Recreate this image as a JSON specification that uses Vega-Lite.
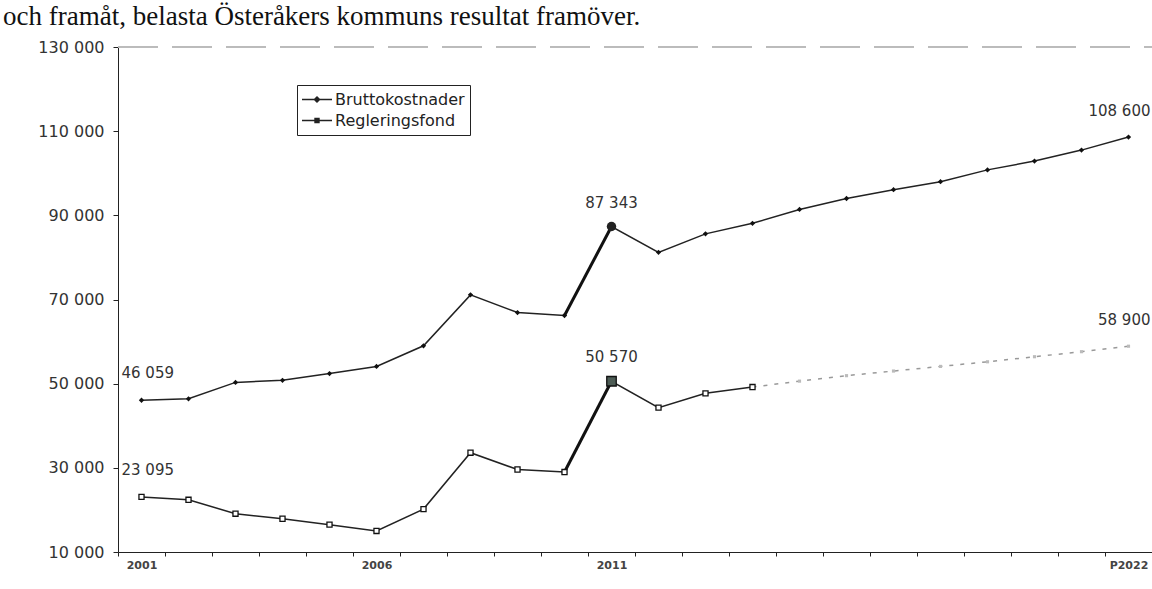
{
  "$schema": "https://vega.github.io/schema/vega-lite/v6.json",
  "autosize": "none",
  "width": 1034,
  "height": 505,
  "padding": {"left": 118, "top": 47, "right": 0, "bottom": 37},
  "background": "white",
  "title": {
    "text": "och framåt, belasta Österåkers kommuns resultat framöver.",
    "anchor": "start",
    "frame": "group",
    "font": "Liberation Serif",
    "fontSize": 27,
    "fontWeight": "normal",
    "color": "#111",
    "dx": -115,
    "offset": 8
  },
  "config": {
    "view": {"stroke": null},
    "axis": {"labelFont": "DejaVu Sans", "labelColor": "#333", "domainColor": "#222", "tickColor": "#222", "grid": false}
  },
  "data": {
    "values": [
      {"x": "2001", "yr": 2001, "series": "Bruttokostnader", "v": 46059, "lbl": "46 059"},
      {"x": "2002", "yr": 2002, "series": "Bruttokostnader", "v": 46400},
      {"x": "2003", "yr": 2003, "series": "Bruttokostnader", "v": 50300},
      {"x": "2004", "yr": 2004, "series": "Bruttokostnader", "v": 50800},
      {"x": "2005", "yr": 2005, "series": "Bruttokostnader", "v": 52400},
      {"x": "2006", "yr": 2006, "series": "Bruttokostnader", "v": 54100},
      {"x": "2007", "yr": 2007, "series": "Bruttokostnader", "v": 59000},
      {"x": "2008", "yr": 2008, "series": "Bruttokostnader", "v": 71100},
      {"x": "2009", "yr": 2009, "series": "Bruttokostnader", "v": 66900},
      {"x": "2010", "yr": 2010, "series": "Bruttokostnader", "v": 66200},
      {"x": "2011", "yr": 2011, "series": "Bruttokostnader", "v": 87343, "lbl": "87 343"},
      {"x": "2012", "yr": 2012, "series": "Bruttokostnader", "v": 81200},
      {"x": "2013", "yr": 2013, "series": "Bruttokostnader", "v": 85600},
      {"x": "2014", "yr": 2014, "series": "Bruttokostnader", "v": 88100},
      {"x": "2015", "yr": 2015, "series": "Bruttokostnader", "v": 91400},
      {"x": "2016", "yr": 2016, "series": "Bruttokostnader", "v": 94000},
      {"x": "2017", "yr": 2017, "series": "Bruttokostnader", "v": 96100},
      {"x": "2018", "yr": 2018, "series": "Bruttokostnader", "v": 98000},
      {"x": "2019", "yr": 2019, "series": "Bruttokostnader", "v": 100800},
      {"x": "2020", "yr": 2020, "series": "Bruttokostnader", "v": 102900},
      {"x": "2021", "yr": 2021, "series": "Bruttokostnader", "v": 105500},
      {"x": "P2022", "yr": 2022, "series": "Bruttokostnader", "v": 108600, "lbl": "108 600"},
      {"x": "2001", "yr": 2001, "series": "Regleringsfond", "v": 23095, "lbl": "23 095"},
      {"x": "2002", "yr": 2002, "series": "Regleringsfond", "v": 22400},
      {"x": "2003", "yr": 2003, "series": "Regleringsfond", "v": 19100},
      {"x": "2004", "yr": 2004, "series": "Regleringsfond", "v": 17900},
      {"x": "2005", "yr": 2005, "series": "Regleringsfond", "v": 16500},
      {"x": "2006", "yr": 2006, "series": "Regleringsfond", "v": 15000},
      {"x": "2007", "yr": 2007, "series": "Regleringsfond", "v": 20200},
      {"x": "2008", "yr": 2008, "series": "Regleringsfond", "v": 33600},
      {"x": "2009", "yr": 2009, "series": "Regleringsfond", "v": 29600},
      {"x": "2010", "yr": 2010, "series": "Regleringsfond", "v": 29000},
      {"x": "2011", "yr": 2011, "series": "Regleringsfond", "v": 50570, "lbl": "50 570"},
      {"x": "2012", "yr": 2012, "series": "Regleringsfond", "v": 44300},
      {"x": "2013", "yr": 2013, "series": "Regleringsfond", "v": 47700},
      {"x": "2014", "yr": 2014, "series": "Regleringsfond", "v": 49200},
      {"x": "2015", "yr": 2015, "series": "Regleringsfond", "v": 50600},
      {"x": "2016", "yr": 2016, "series": "Regleringsfond", "v": 51900},
      {"x": "2017", "yr": 2017, "series": "Regleringsfond", "v": 53000},
      {"x": "2018", "yr": 2018, "series": "Regleringsfond", "v": 54100},
      {"x": "2019", "yr": 2019, "series": "Regleringsfond", "v": 55200},
      {"x": "2020", "yr": 2020, "series": "Regleringsfond", "v": 56400},
      {"x": "2021", "yr": 2021, "series": "Regleringsfond", "v": 57600},
      {"x": "P2022", "yr": 2022, "series": "Regleringsfond", "v": 58900, "lbl": "58 900"}
    ]
  },
  "encoding": {
    "x": {
      "field": "x",
      "type": "ordinal",
      "scale": {"type": "band", "paddingInner": 0, "paddingOuter": 0,
        "domain": ["2001","2002","2003","2004","2005","2006","2007","2008","2009","2010","2011","2012","2013","2014","2015","2016","2017","2018","2019","2020","2021","P2022"]},
      "axis": {
        "title": null,
        "labelAngle": 0,
        "tickBand": "extent",
        "tickSize": 4,
        "labelFontSize": 11,
        "labelFontWeight": "bold",
        "labelColor": "#444",
        "labelPadding": 3,
        "labelExpr": "indexof(['2001','2006','2011','P2022'], datum.value) >= 0 ? datum.value : ''"
      }
    },
    "y": {
      "field": "v",
      "type": "quantitative",
      "scale": {"domain": [10000, 130000], "nice": false, "zero": false},
      "axis": {
        "title": null,
        "values": [10000, 30000, 50000, 70000, 90000, 110000, 130000],
        "labelExpr": "replace(format(datum.value, ','), ',', ' ')",
        "labelFontSize": 16,
        "tickSize": 5,
        "labelPadding": 9
      }
    }
  },
  "layer": [
    {
      "mark": {"type": "rule", "color": "#bbb", "strokeDash": [40, 14], "strokeWidth": 1},
      "encoding": {"x": {"value": 0}, "x2": {"value": 1034}, "y": {"datum": 130000}}
    },
    {
      "transform": [{"filter": "datum.series == 'Bruttokostnader'"}],
      "mark": {"type": "line", "color": "#222", "strokeWidth": 1.5}
    },
    {
      "transform": [{"filter": "datum.series == 'Regleringsfond' && datum.yr <= 2014"}],
      "mark": {"type": "line", "color": "#222", "strokeWidth": 1.5}
    },
    {
      "transform": [{"filter": "datum.series == 'Regleringsfond' && datum.yr >= 2014"}],
      "mark": {"type": "line", "color": "#999", "strokeWidth": 1.5, "strokeDash": [4, 7]}
    },
    {
      "transform": [{"filter": "datum.yr == 2010 || datum.yr == 2011"}],
      "mark": {"type": "line", "color": "#111", "strokeWidth": 3},
      "encoding": {"detail": {"field": "series"}}
    },
    {
      "transform": [{"filter": "datum.series == 'Bruttokostnader' && datum.yr != 2011"}],
      "mark": {"type": "point", "shape": "diamond", "filled": true, "color": "#111", "size": 28, "opacity": 1}
    },
    {
      "transform": [{"filter": "datum.series == 'Regleringsfond' && datum.yr <= 2014 && datum.yr != 2011"}],
      "mark": {"type": "point", "shape": "square", "filled": true, "fill": "white", "stroke": "#111", "strokeWidth": 1.3, "size": 26, "opacity": 1}
    },
    {
      "transform": [{"filter": "datum.series == 'Regleringsfond' && datum.yr > 2014"}],
      "mark": {"type": "point", "shape": "square", "filled": true, "fill": "#bbb", "size": 10, "opacity": 1}
    },
    {
      "transform": [{"filter": "datum.series == 'Bruttokostnader' && datum.yr == 2011"}],
      "mark": {"type": "point", "shape": "circle", "filled": true, "color": "#222", "size": 90, "opacity": 1}
    },
    {
      "transform": [{"filter": "datum.series == 'Regleringsfond' && datum.yr == 2011"}],
      "mark": {"type": "point", "shape": "square", "filled": true, "fill": "#4d5c55", "stroke": "#111", "strokeWidth": 1.3, "size": 90, "opacity": 1}
    },
    {
      "transform": [{"filter": "isValid(datum.lbl) && datum.yr == 2011"}],
      "mark": {"type": "text", "font": "DejaVu Sans", "fontSize": 15, "color": "#333", "dy": -24, "align": "center"},
      "encoding": {"text": {"field": "lbl"}}
    },
    {
      "transform": [{"filter": "isValid(datum.lbl) && datum.yr == 2001"}],
      "mark": {"type": "text", "font": "DejaVu Sans", "fontSize": 15, "color": "#333", "dy": -27, "dx": -20, "align": "left"},
      "encoding": {"text": {"field": "lbl"}}
    },
    {
      "transform": [{"filter": "isValid(datum.lbl) && datum.yr == 2022"}],
      "mark": {"type": "text", "font": "DejaVu Sans", "fontSize": 15, "color": "#333", "dy": -26, "dx": 22, "align": "right"},
      "encoding": {"text": {"field": "lbl"}}
    },
    {
      "mark": {"type": "point", "opacity": 0, "filled": true, "color": "#222"},
      "encoding": {
        "shape": {
          "field": "series",
          "type": "nominal",
          "scale": {"domain": ["Bruttokostnader", "Regleringsfond"], "range": ["M-1,-0.045H1V0.045H-1ZM0,-0.24L0.24,0L0,0.24L-0.24,0Z", "M-1,-0.045H1V0.045H-1ZM-0.18,-0.18H0.18V0.18H-0.18Z"]},
          "legend": {
            "title": null,
            "orient": "none",
            "legendX": 179,
            "legendY": 38,
            "fillColor": "white",
            "strokeColor": "#222",
            "padding": 5,
            "symbolSize": 900,
            "symbolOpacity": 1,
            "symbolFillColor": "#222",
            "symbolStrokeWidth": 0,
            "clipHeight": 19,
            "labelFont": "DejaVu Sans",
            "labelFontSize": 16,
            "labelColor": "#222",
            "labelOffset": 3,
            "encode": {
              "symbols": {
                "update": {
                  "fill": {"value": "#222"},
                  "opacity": {"value": 1},
                  "size": {"value": 900}
                }
              }
            }
          }
        },
        "size": {"value": 900}
      }
    }
  ]
}
